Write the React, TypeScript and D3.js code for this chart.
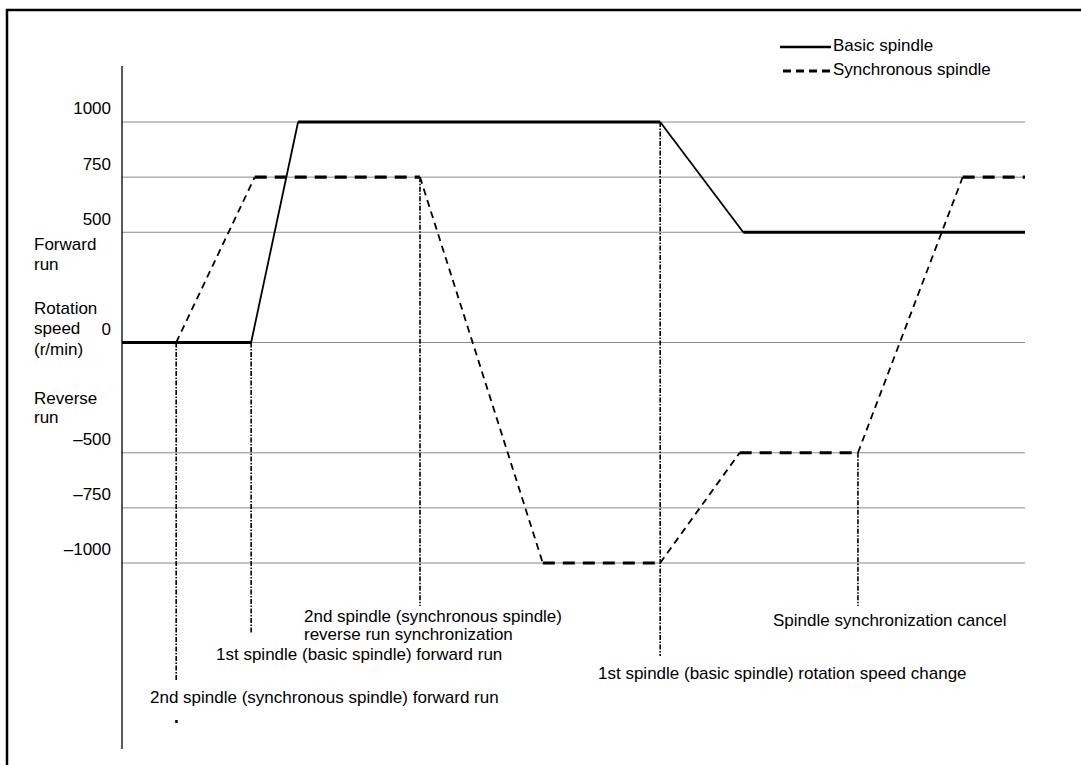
import React from "react";
import * as d3 from "d3";

// Time axis is schematic (arbitrary units 0..100)
const basicTimes = [0, 14.3, 19.5, 59.6, 68.8, 100];
const basicValues = [0, 0, 1000, 1000, 500, 500];
const syncTimes = [0, 6, 14.7, 33, 46.6, 59.6, 68.4, 81.5, 93.1, 100];
const syncValues = [0, 0, 750, 750, -1000, -1000, -500, -500, 750, 750];
const yTicks = [1000, 750, 500, 0, -500, -750, -1000];
const yTickLabels = ["1000", "750", "500", "0", "\u2013500", "\u2013750", "\u20131000"];
const eventTimes = [6, 14.3, 33, 59.6, 81.5];
const eventValues = [0, 0, 750, 1000, -500];
const eventEnds = [680, 634, 606, 656, 606];

const W = 1081;
const H = 765;
const FONT = "'Liberation Sans', Arial, sans-serif";

export default function App() {
  const x = d3.scaleLinear().domain([0, 100]).range([122, 1025]);
  const y = d3.scaleLinear().domain([-1000, 1000]).range([563, 122]);
  const line = d3
    .line<[number, number]>()
    .x((d) => x(d[0]))
    .y((d) => y(d[1]));

  const segs = (times: number[], vals: number[]) =>
    times.slice(1).map((t, i) => ({
      pts: [
        [times[i], vals[i]],
        [t, vals[i + 1]],
      ] as [number, number][],
      flat: vals[i] === vals[i + 1],
    }));

  const basicSegs = segs(basicTimes, basicValues);
  const syncSegs = segs(syncTimes, syncValues).slice(1); // first part hidden under basic

  const fs = 17;

  return (
    <svg
      width={W}
      height={H}
      style={{ position: "fixed", left: 0, top: 0, background: "#fff" }}
      fontFamily={FONT}
      fontSize={fs}
    >
      <rect x={0} y={0} width={W} height={H} fill="#fff" />
      {/* frame */}
      <path d={`M7,${H + 5} V10 H${W + 5}`} fill="none" stroke="#000" strokeWidth={2.5} />

      {/* gridlines */}
      {yTicks.map((v) => (
        <line key={v} x1={122} x2={1025} y1={y(v)} y2={y(v)} stroke="#8a8a8a" strokeWidth={1} />
      ))}

      {/* y axis */}
      <line x1={122} x2={122} y1={66} y2={749} stroke="#000" strokeWidth={1.3} />

      {/* tick labels */}
      {yTicks.map((v, i) => (
        <text key={v} x={111} y={y(v) - 12} textAnchor="end" dominantBaseline="middle">
          {yTickLabels[i]}
        </text>
      ))}

      {/* side labels */}
      <g dominantBaseline="middle">
        <text x={34} y={246}>Forward</text>
        <text x={34} y={266}>run</text>
        <text x={34} y={310}>Rotation</text>
        <text x={34} y={330}>speed</text>
        <text x={34} y={351}>(r/min)</text>
        <text x={34} y={400}>Reverse</text>
        <text x={34} y={419}>run</text>
      </g>

      {/* event lines */}
      {eventTimes.map((t, i) => (
        <line
          key={t}
          x1={x(t)}
          x2={x(t)}
          y1={y(eventValues[i])}
          y2={eventEnds[i]}
          stroke="#000"
          strokeWidth={1.6}
          strokeDasharray="5,1.5,1.5,1.5"
        />
      ))}
      <rect x={x(eventTimes[0]) - 1} y={720} width={2.5} height={3} fill="#000" />

      {/* synchronous spindle */}
      {syncSegs.map((s, i) => (
        <path
          key={"s" + i}
          d={line(s.pts) || ""}
          fill="none"
          stroke="#000"
          strokeWidth={s.flat ? 3.2 : 1.8}
          strokeDasharray={s.flat ? "12,8" : "7,5"}
        />
      ))}

      {/* basic spindle */}
      {basicSegs.map((s, i) => (
        <path
          key={"b" + i}
          d={line(s.pts) || ""}
          fill="none"
          stroke="#000"
          strokeWidth={s.flat ? 3.2 : 1.8}
        />
      ))}

      {/* legend */}
      <line x1={780} x2={831} y1={47} y2={47} stroke="#000" strokeWidth={2.5} />
      <text x={833} y={47} dominantBaseline="middle">Basic spindle</text>
      <line x1={783} x2={831} y1={71} y2={71} stroke="#000" strokeWidth={3} strokeDasharray="8,5" />
      <text x={833} y={71} dominantBaseline="middle">Synchronous spindle</text>

      {/* annotations */}
      <g dominantBaseline="middle">
        <text x={304} y={618}>2nd spindle (synchronous spindle)</text>
        <text x={304} y={636}>reverse run synchronization</text>
        <text x={216} y={656}>1st spindle (basic spindle) forward run</text>
        <text x={150} y={699}>2nd spindle (synchronous spindle) forward run</text>
        <text x={598} y={675}>1st spindle (basic spindle) rotation speed change</text>
        <text x={773} y={622}>Spindle synchronization cancel</text>
      </g>
    </svg>
  );
}
